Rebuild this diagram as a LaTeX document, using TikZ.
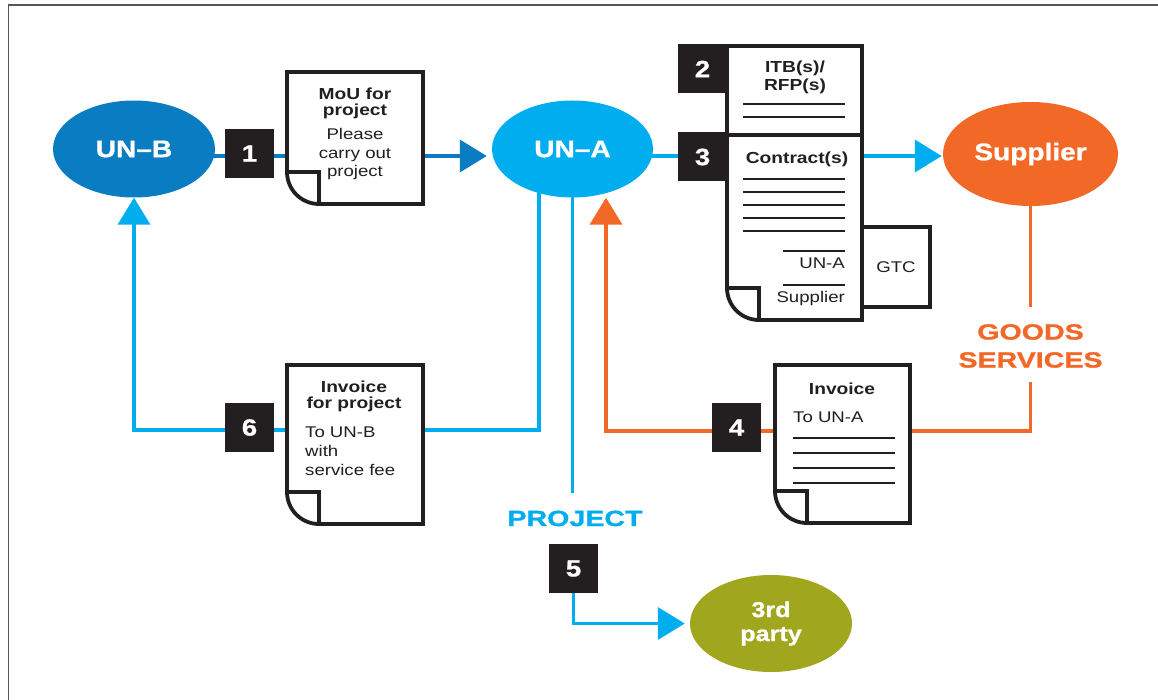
\documentclass[tikz,border=0pt]{standalone}
\usepackage{fontspec}
\setmainfont{Liberation Sans}[FakeStretch=1.2]
\newfontfamily\labelfont{Liberation Sans}[FakeStretch=1.3, FakeBold=1.2]
\newfontfamily\heavyfont{Liberation Sans}[FakeStretch=1.17, FakeBold=1.0]
\usetikzlibrary{arrows.meta,shapes.geometric,fit}
\definecolor{unbblue}{HTML}{0A7DC2}
\definecolor{unacyan}{HTML}{00AEEF}
\definecolor{suporange}{HTML}{F26826}
\definecolor{thirdolive}{HTML}{A0A71F}
\definecolor{inkblack}{HTML}{231F20}
\definecolor{framegray}{HTML}{555555}
\pgfdeclarelayer{bg}
\pgfsetlayers{bg,main}
\tikzset{
  orgshape/.style={ellipse, inner sep=0, text=white, minimum width=162pt, minimum height=97pt,
    font=\heavyfont\bfseries\fontsize{24}{24}\selectfont},
  numbox/.style={fill=inkblack, minimum size=49pt, inner sep=0, text=white,
    font=\heavyfont\bfseries\fontsize{23.5}{24}\selectfont},
  link/.style={line width=3.6pt},
  arrowhead/.style={-{Triangle[length=27pt,width=32pt]}},
  docline/.style={draw=inkblack, line width=3.8pt, fill=white, line join=miter},
  docrule/.style={draw=inkblack, line width=1.8pt},
  titletxt/.style={inner sep=0, text=inkblack, anchor=base,
    font=\fontsize{16}{17}\selectfont\bfseries},
  bodytxt/.style={inner sep=0, text=inkblack, anchor=base,
    font=\fontsize{15.5}{19}\selectfont},
  flowlabel/.style={inner sep=0, font=\labelfont\bfseries\fontsize{22}{28}\selectfont, align=center},
}
\newcommand\docshape[5]{%
  \node[fit={(#2,#3) (#4,#5)}, inner sep=0] (#1) {};
  \draw[docline] (#2,#3) -- (#4,#3) -- (#4,#5) -- ({#2+32},#5)
    .. controls ({#2+14.3},#5) and (#2,{#5-14.3}) .. (#2,{#5-32}) -- cycle;
  \draw[docline, fill=none] (#2,{#5-32}) -- ({#2+32},{#5-32}) -- ({#2+32},#5);
}
\begin{document}
\begin{tikzpicture}[x=1pt,y=-1pt]
\useasboundingbox (0,0) rectangle (1158,700);
\draw[framegray, line width=1.8pt] (8.5,700) -- (8.5,5) -- (1158,5);

% parties
\node[orgshape, fill=unbblue] (unb) at (134,149) {UN–B};
\node[orgshape, fill=unacyan, minimum width=161pt] (una) at (572.5,149) {UN–A};
\node[orgshape, fill=suporange, minimum width=175pt, minimum height=104pt] (sup) at (1030.5,154) {Supplier};
\node[orgshape, fill=thirdolive, align=center, font=\heavyfont\bfseries\fontsize{21.5}{24}\selectfont] (third) at (771,623.5) {3rd\\party};

% flow labels
\node[flowlabel, text=suporange, anchor=north] (goods) at (1030.5,324) {GOODS\\SERVICES};
\node[flowlabel, text=unacyan, anchor=base] (project) at (575,526) {PROJECT};

% documents
\docshape{mou}{287}{72}{423}{204}
\node[titletxt] (mou1) at (355,100) {MoU for};
\node[titletxt] (mou2) at (355,116) {project};
\node[bodytxt] (mou3) at (355,140) {Please};
\node[bodytxt] (mou4) at (355,159) {carry out};
\node[bodytxt] (mou5) at (355,177) {project};

\node[docline, minimum width=68pt, minimum height=80pt, inner sep=0, text=inkblack,
  font=\fontsize{15.5}{19}\selectfont] (gtc) at (896,267) {GTC};

\node[docline, fit={(727,46) (862,135)}, inner sep=0] (itb) {};
\node[titletxt] (itb1) at (795,73) {ITB(s)/};
\node[titletxt] (itb2) at (795,91) {RFP(s)};
\draw[docrule] (743,104) -- (845,104);
\draw[docrule] (743,117) -- (845,117);

\docshape{contract}{727}{135}{862}{320}
\node[titletxt] (con1) at (797,164) {Contract(s)};
\foreach \yy in {179,192,205,218,231}{\draw[docrule] (743,\yy) -- (845,\yy);}
\draw[docrule] (783,251) -- (845,251);
\node[bodytxt, anchor=base east] (con2) at (845,269) {UN-A};
\draw[docrule] (783,285) -- (845,285);
\node[bodytxt, anchor=base east] (con3) at (845,303) {Supplier};

\docshape{inv6}{287}{365}{423}{524}
\node[titletxt] (inv61) at (354,392) {Invoice};
\node[titletxt] (inv62) at (354,408) {for project};
\node[bodytxt, anchor=base west] (inv63) at (305,437) {To UN-B};
\node[bodytxt, anchor=base west] (inv64) at (305,456) {with};
\node[bodytxt, anchor=base west] (inv65) at (305,475) {service fee};

\docshape{inv4}{775}{365}{910}{523}
\node[titletxt] (inv41) at (842,394) {Invoice};
\node[bodytxt, anchor=base west] (inv42) at (793,422) {To UN-A};
\foreach \yy in {438,453,468,483}{\draw[docrule] (793,\yy) -- (895,\yy);}

% step numbers
\node[numbox] (n1) at (249.5,153.5) {1};
\node[numbox] (n2) at (702.5,69) {2};
\node[numbox] (n3) at (702.5,157) {3};
\node[numbox] (n4) at (736.5,427.5) {4};
\node[numbox] (n5) at (573.5,568.5) {5};
\node[numbox] (n6) at (249.5,427.5) {6};

% connectors
\coordinate (o1) at (606,431);
\coordinate (c1) at (539,430);
\coordinate (pend) at ([yshift=17pt]project.north);
\begin{pgfonlayer}{bg}
\draw[link, draw=unbblue, arrowhead] ([yshift=-7pt]unb.center) -- ([yshift=-7pt,xshift=-5pt]una.west);
\draw[link, draw=unacyan, arrowhead] ([yshift=-7pt]una.center) -- ([yshift=-2pt,xshift=-1pt]sup.west);
\draw[link, draw=suporange] (sup.center) -- ([yshift=17pt]goods.north);
\draw[link, draw=suporange, arrowhead] ([yshift=-14pt]goods.south) |- (o1) -- (o1 |- una.south);
\draw[link, draw=unacyan, arrowhead] ([xshift=-33.5pt]una.center) -- (c1) -| (unb.south);
\draw[link, draw=unacyan] (una.center) -- (una.center |- pend);
\draw[link, draw=unacyan, arrowhead] (n5.center) |- ([xshift=-5pt]third.west);
\end{pgfonlayer}
\end{tikzpicture}
\end{document}
